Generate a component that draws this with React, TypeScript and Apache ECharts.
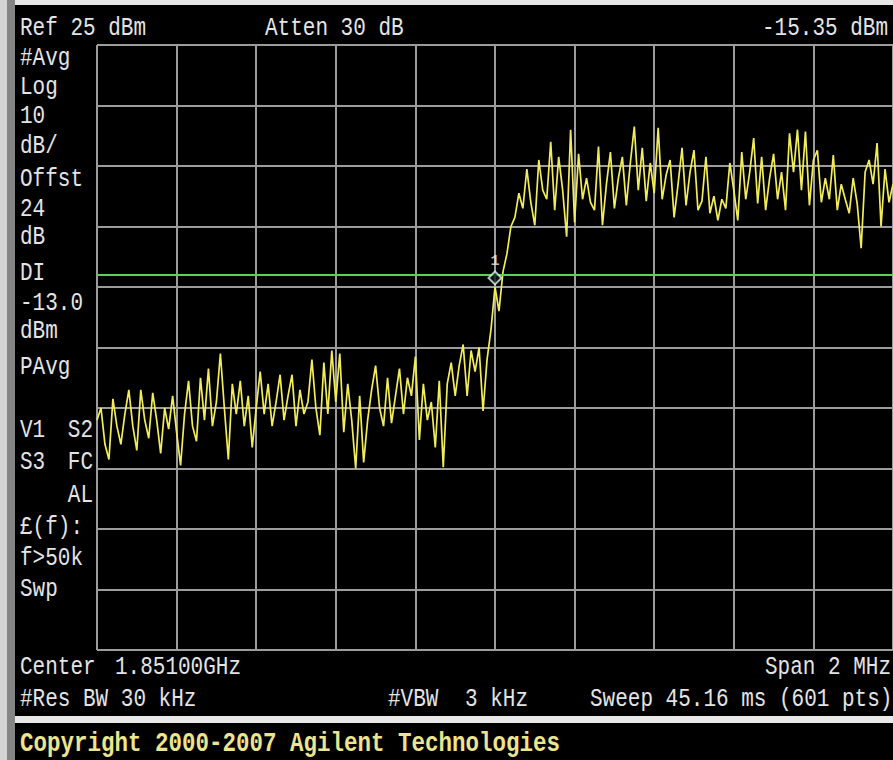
import React, { useEffect, useRef } from "react";
import * as echarts from "echarts";

// Spectrum analyzer settings (MHz / dBm)
const startMHz = 1850.0;
const stopMHz = 1852.0;
const stepMHz = 0.01;
const refLevel = 25;
const dbPerDiv = 10;
const displayLine = -13.0;
const markerPoint = [1851.0, -13.5];

// Trace values (dBm), one every 10 kHz
const traceDbm = [
  -37, -35, -41, -43.5, -33.5, -38, -41, -36, -32, -38,
  -42, -32, -37, -40, -32.5, -37, -42.5, -35, -38.5, -33,
  -39, -44.5, -36, -30.5, -38, -40.5, -30, -37, -28.5, -38,
  -34, -26, -35, -43.5, -31, -36, -30.5, -38, -33, -41.5,
  -35, -29, -36, -31, -38, -34, -29.5, -37, -33, -29.5,
  -38, -32, -36, -34, -27, -35, -39.5, -27.5, -36, -25.5,
  -34, -26, -39, -31, -37, -45, -33, -44, -37, -32,
  -28, -35, -38, -30, -37.5, -33, -28.5, -36, -30, -33,
  -26.5, -40.3, -31, -37, -34, -41.5, -30.5, -44.8, -31, -27.5,
  -33, -28, -24.5, -33, -25.5, -29, -25, -35.5, -27, -22,
  -15, -19, -12.5, -9.5, -5, -3.5, 0.5, -2, 4.5, -1,
  -4.8, 6, 1, -0.5, 9, -2.3, 6.5, 1, -6.7, 11,
  -4.3, 7, -0.5, 3, -1, -2.3, 8.2, -4.8, 2, 7.3,
  -2, 3, 6.5, -1.5, 5.5, 11.5, 1, 8, -0.8, 5.5,
  0.5, 11.3, -0.5, 3.5, 6, -3.5, 2, 8, -1.5, 4,
  7.6, -2.3, -0.8, 6.5, -2.8, 0, -4, -0.5, -2, 5.5,
  1, -4, 7.3, -0.5, 4, 9.6, -1.2, 6.5, -2.3, 3,
  7, -0.5, 4, -2.3, 10.4, 4, 11, 1, 10.7, -1.5,
  6, 7.6, -1, 3, -0.5, 6.8, -2.3, 2, -0.5, -2.8,
  3, -1.2, -8.6, 4, 6, 2, 8.8, -5, 4.5, -1, 2,
];

const headerLabels = { ref: "Ref 25 dBm", atten: "Atten 30 dB", marker: "-15.35 dBm" };
const sideLabels = [
  ["#Avg", 58], ["Log", 87], ["10", 116], ["dB/", 146], ["Offst", 179], ["24", 209],
  ["dB", 237], ["DI", 273], ["-13.0", 303], ["dBm", 331], ["PAvg", 367],
  ["£(f):", 527], ["f>50k", 558], ["Swp", 589],
];
const sidePairs = [
  ["V1", "S2", 430], ["S3", "FC", 462], ["", "AL", 495],
];
const footerLabels = {
  center: "Center", centerFreq: "1.85100GHz", span: "Span 2 MHz",
  rbw: "#Res BW 30 kHz", vbwLabel: "#VBW", vbw: "3 kHz", sweep: "Sweep 45.16 ms (601 pts)",
  copyright: "Copyright 2000-2007 Agilent Technologies",
};

const FONT = '"Liberation Mono", "DejaVu Sans Mono", monospace';
const TXT = "#e4e4e4";

function txt(text: string, x: number, y: number, align: string = "left", color: string = TXT, weight: string = "normal", size: number = 21) {
  return {
    type: "text",
    x,
    y,
    scaleY: 1.2,
    silent: true,
    z: 10,
    style: {
      text,
      fill: color,
      font: `${weight} ${size}px ${FONT}`,
      textAlign: align,
      align,
      textVerticalAlign: "middle",
      verticalAlign: "middle",
    },
  };
}

export default function App() {
  const ref = useRef<HTMLDivElement>(null);
  useEffect(() => {
    if (!ref.current) return;
    const chart = echarts.init(ref.current, undefined, { renderer: "svg" });
    const traceData = traceDbm.map((v, i) => [startMHz + i * stepMHz, v]);

    const graphics: any[] = [
      { type: "rect", shape: { x: 0, y: 0, width: 893, height: 5 }, style: { fill: "#e6e6e6" }, z: 10 },
      { type: "rect", shape: { x: 0, y: 0, width: 7, height: 760 }, style: { fill: "#d4d4d4" }, z: 10 },
      { type: "rect", shape: { x: 7, y: 0, width: 8, height: 760 }, style: { fill: "#858585" }, z: 10 },
      { type: "rect", shape: { x: 15, y: 716, width: 878, height: 7 }, style: { fill: "#e8e8e8" }, z: 10 },
      txt(headerLabels.ref, 20, 28),
      txt(headerLabels.atten, 265, 28),
      txt(headerLabels.marker, 888, 28, "right"),
      txt(footerLabels.center, 20, 667),
      txt(footerLabels.centerFreq, 115, 667),
      txt(footerLabels.span, 765, 667),
      txt(footerLabels.rbw, 20, 699),
      txt(footerLabels.vbwLabel, 388, 699),
      txt(footerLabels.vbw, 465, 699),
      txt(footerLabels.sweep, 590, 699),
      txt(footerLabels.copyright, 20, 743, "left", "#ece58c", "bold", 22.5),
    ];
    sideLabels.forEach(([t, y]) => graphics.push(txt(t as string, 20, y as number)));
    sidePairs.forEach(([a, b, y]) => {
      if (a) graphics.push(txt(a as string, 20, y as number));
      graphics.push(txt(b as string, 93, y as number, "right"));
    });

    chart.setOption({
      animation: false,
      backgroundColor: "#000000",
      grid: { left: 97, top: 45, width: 801, height: 605, containLabel: false },
      xAxis: {
        type: "value",
        min: startMHz,
        max: stopMHz,
        interval: 0.2,
        axisLine: { show: false },
        axisTick: { show: false },
        axisLabel: { show: false },
        splitLine: { show: true, lineStyle: { color: "#9c9c9c", width: 2 } },
      },
      yAxis: {
        type: "value",
        min: refLevel - 10 * dbPerDiv,
        max: refLevel,
        interval: dbPerDiv,
        axisLine: { show: false },
        axisTick: { show: false },
        axisLabel: { show: false },
        splitLine: { show: true, lineStyle: { color: "#9c9c9c", width: 2 } },
      },
      series: [
        {
          type: "line",
          data: traceData,
          showSymbol: false,
          symbol: "none",
          z: 3,
          lineStyle: { color: "#f2ec5a", width: 1.7 },
        },
        {
          type: "scatter",
          data: [markerPoint],
          symbol: "diamond",
          symbolSize: 13,
          z: 5,
          itemStyle: { color: "#0a1a12", borderColor: "#d8f5e4", borderWidth: 2 },
          label: {
            show: true,
            formatter: "1",
            position: "top",
            distance: 1,
            color: "#f0f0f0",
            fontFamily: FONT,
            fontWeight: "bold",
            fontSize: 15,
          },
          markLine: {
            silent: true,
            symbol: "none",
            label: { show: false },
            lineStyle: { color: "#5ccf5c", width: 2, type: "solid" },
            data: [{ yAxis: displayLine }],
          },
        },
      ],
      graphic: graphics,
    });
    return () => chart.dispose();
  }, []);
  return (
    <div
      ref={ref}
      style={{ position: "fixed", left: 0, top: 0, width: 893, height: 760, background: "#000" }}
    />
  );
}
